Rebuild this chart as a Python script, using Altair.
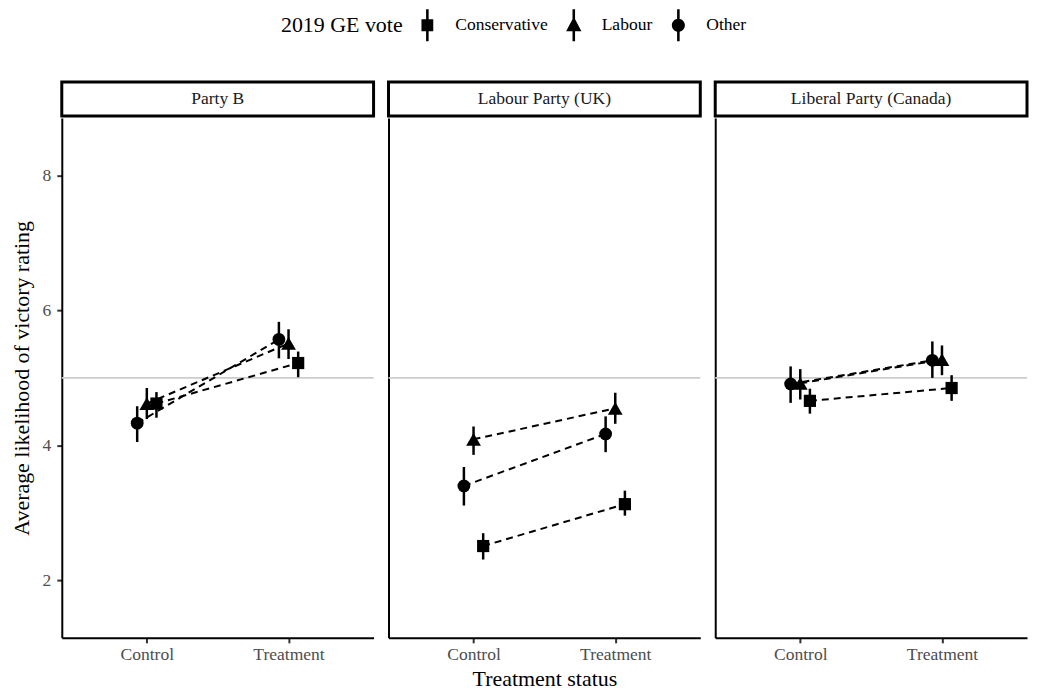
import altair as alt
import pandas as pd

SERIF = "Liberation Serif"

parties = ["Party B", "Labour Party (UK)", "Liberal Party (Canada)"]
groups = ["Conservative", "Labour", "Other"]
conditions = ["Control", "Treatment"]

# mean rating [Control, Treatment] per party, per group (Conservative, Labour, Other)
mean_vals = [
    [[4.62, 5.22], [4.62, 5.51], [4.33, 5.57]],
    [[2.51, 3.13], [4.09, 4.55], [3.40, 4.17]],
    [[4.66, 4.85], [4.92, 5.27], [4.91, 5.26]],
]
low_vals = [
    [[4.41, 5.01], [4.39, 5.28], [4.05, 5.29]],
    [[2.31, 2.96], [3.86, 4.32], [3.11, 3.90]],
    [[4.47, 4.66], [4.68, 5.04], [4.63, 5.00]],
]
high_vals = [
    [[4.79, 5.39], [4.85, 5.72], [4.58, 5.83]],
    [[2.70, 3.33], [4.28, 4.78], [3.68, 4.43]],
    [[4.84, 5.04], [5.13, 5.48], [5.17, 5.54]],
]
ref_line = [5]
y_ticks = [2, 4, 6, 8]

rows = []
for pi, p in enumerate(parties):
    for gi, g in enumerate(groups):
        for ci, c in enumerate(conditions):
            rows.append({"party": p, "group": g, "condition": c,
                         "mean": mean_vals[pi][gi][ci],
                         "low": low_vals[pi][gi][ci],
                         "high": high_vals[pi][gi][ci]})
df = pd.DataFrame(rows)

W, H, STRIP_H = 313, 522, 34
DODGE = 0.068
shapes = {"Conservative": "square", "Labour": "triangle-up", "Other": "circle"}
point_sizes = {"Conservative": 150, "Labour": 220, "Other": 165}

bar = "M-0.08,-1H0.08V1H-0.08Z "
legend_paths = [
    bar + "M-0.37,-0.37H0.37V0.37H-0.37Z",
    bar + "M0,-0.54L0.48,0.38L-0.48,0.38Z",
    bar + "M-0.41,0A0.41,0.41 0 1,1 0.41,0A0.41,0.41 0 1,1 -0.41,0Z",
]

xpos_expr = ("(datum.condition === '%s' ? 1 : 2) + %f * (datum.group === 'Other' ? -1 : "
             "(datum.group === 'Labour' ? 0 : 1))") % (conditions[0], DODGE)
label_expr = "datum.value == 1 ? '%s' : '%s'" % (conditions[0], conditions[1])

yscale = alt.Scale(domain=[1.15, 8.85], nice=False, zero=False)


def panel(i, p):
    if i == 0:
        yaxis = alt.Axis(values=y_ticks, title="Average likelihood of victory rating",
                         grid=False, labelPadding=6, titlePadding=9)
    else:
        yaxis = alt.Axis(labels=False, ticks=False, title=None, grid=False)
    xaxis = alt.Axis(values=[1, 2], labelExpr=label_expr, grid=False, labelPadding=3,
                     title="Treatment status" if i == 1 else None, titlePadding=5)
    x = alt.X("xpos:Q", scale=alt.Scale(domain=[0.4, 2.6], nice=False, zero=False), axis=xaxis)

    base = alt.Chart(df).transform_filter(alt.datum.party == p).transform_calculate(xpos=xpos_expr)

    hline = alt.Chart(pd.DataFrame({"ref": ref_line})).mark_rule(
        color="#cccccc", strokeWidth=1.8).encode(y=alt.Y("ref:Q", scale=yscale, axis=yaxis))
    lines = base.mark_line(color="black", strokeWidth=2, strokeDash=[7, 5]).encode(
        x=x, y=alt.Y("mean:Q", scale=yscale, axis=yaxis), detail="group:N", order="xpos:Q")
    errs = base.mark_rule(color="black", strokeWidth=2.5).encode(
        x=x, y=alt.Y("low:Q", scale=yscale, axis=yaxis), y2="high:Q")
    layers = [hline, lines, errs]
    for g in groups:
        layers.append(base.transform_filter(alt.datum.group == g).mark_point(
            shape=shapes[g], filled=True, color="black", opacity=1, size=point_sizes[g]).encode(
            x=x, y=alt.Y("mean:Q", scale=yscale, axis=yaxis)))
    if i == 0:
        leg = alt.Chart(pd.DataFrame({"group": groups})).transform_filter(
            "datum.group == 'none'").mark_point(filled=True, color="black").encode(
            shape=alt.Shape("group:N", scale=alt.Scale(domain=groups, range=legend_paths),
                            legend=alt.Legend(
                                orient="none", legendX=220, legendY=-73,
                                direction="horizontal", title="2019 GE vote",
                                titleOrient="left", titleFont=SERIF, titleFontSize=22,
                                titleFontWeight="normal", titleColor="black",
                                titlePadding=8, titleBaseline="middle", titleAnchor="middle",
                                labelFont=SERIF, labelFontSize=17.6, labelColor="black",
                                labelOffset=12, columnPadding=10, symbolSize=1024,
                                symbolStrokeWidth=0, symbolFillColor="black",
                                symbolOpacity=1)))
        layers.append(leg)
    plot = alt.layer(*layers).properties(width=W, height=H)

    strip = alt.Chart(pd.DataFrame({"party": [p]})).mark_text(
        font=SERIF, fontSize=17.6, color="#1a1a1a").encode(text="party:N").properties(
        width=W, height=STRIP_H,
        view=alt.ViewBackground(stroke="black", strokeWidth=3, fill="white"))
    return alt.vconcat(strip, plot, spacing=0)


chart = alt.hconcat(*[panel(i, p) for i, p in enumerate(parties)], spacing=11).properties(
    padding={"left": 2, "right": 0, "top": 0, "bottom": 0}
).configure_view(stroke=None).configure_axis(
    grid=False, domainColor="black", domainWidth=2, tickColor="#333333", tickWidth=2,
    tickSize=5, labelFont=SERIF, labelFontSize=17.6, labelColor="#4d4d4d",
    titleFont=SERIF, titleFontSize=22, titleFontWeight="normal", titleColor="black"
)

chart.save("out.html", embed_options={"renderer": "svg", "actions": False})
